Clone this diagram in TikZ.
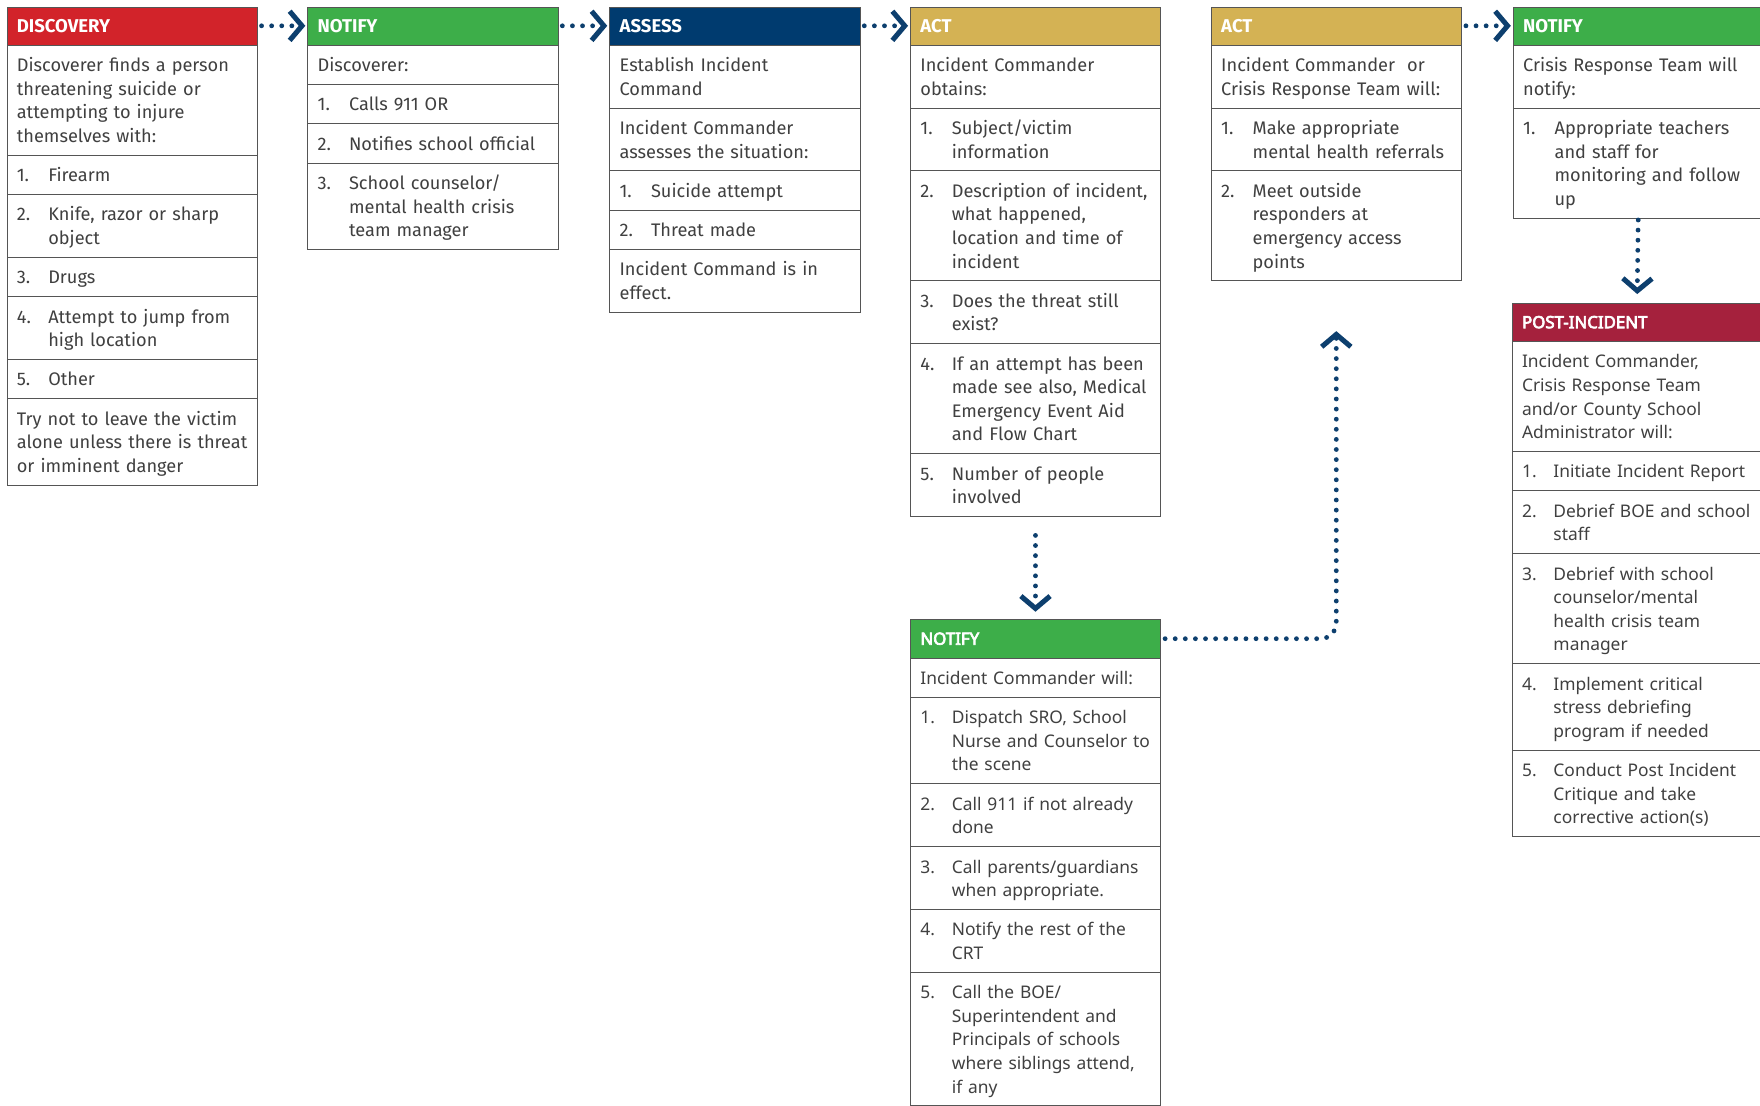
\documentclass[tikz,border=0pt]{standalone}
\usepackage{fontspec}
\setmainfont{Fira Sans}
\newfontfamily\notosans{Noto Sans}
\newfontfamily\notobold{Noto Sans}[FakeBold=4]
\usetikzlibrary{positioning,arrows.meta}

\definecolor{discred}{HTML}{D2232A}
\definecolor{notgreen}{HTML}{3DAE49}
\definecolor{assnavy}{HTML}{003B6F}
\definecolor{actgold}{HTML}{D4B254}
\definecolor{postred}{HTML}{A5213D}
\definecolor{flownavy}{HTML}{0D3F6E}
\definecolor{txtgray}{HTML}{404040}
\definecolor{rulegray}{HTML}{555555}

\newcommand{\bodyfont}{\fontsize{16.2}{21}\selectfont}
\newcommand{\notobody}{\notosans\fontsize{15.5}{21}\selectfont}
\newcommand{\hdfont}{\bfseries\fontsize{16.5}{18}\selectfont}
\newcommand{\notohd}{\notobold\fontsize{15}{18}\selectfont}
\newcommand{\tstrut}{\vrule height 16.8pt depth 4.2pt width 0pt}
\newcommand{\ptxt}[1]{\parbox[t]{260pt}{\raggedright\tstrut #1\tstrut}}
\newcommand{\itm}[2]{\makebox[28pt][l]{#1}\parbox[t]{230pt}{\raggedright\tstrut #2\tstrut}}

\begin{document}
\begin{tikzpicture}[x=1pt,y=-1pt,
    boxhead/.style={draw=rulegray,fill=#1,text=white,font=\hdfont,text width=205pt,
      minimum height=34pt,inner xsep=9pt,inner ysep=0pt,outer sep=0pt,align=left,anchor=north west},
    notohead/.style={boxhead=#1,font=\notohd},
    boxrow/.style={draw=rulegray,fill=white,text=txtgray,font=\bodyfont,text width=205pt,
      inner xsep=9pt,inner ysep=7pt,outer sep=0pt,align=left},
    notorow/.style={boxrow,font=\notobody},
    dotflow/.style={draw=flownavy,line width=4.3pt,line cap=round,dash pattern=on 0pt off 9pt,
      -{Straight Barb[length=11pt,width=26pt,line width=4.5pt]},shorten <=4pt,shorten >=2pt}]
  \useasboundingbox (0,0) rectangle (1568,985);

  \node[boxhead=discred] (disc) at (6,6) {DISCOVERY};
  \node[boxrow,below=0pt of disc] (disc0) {\ptxt{Discoverer finds a person\\threatening suicide or\\attempting to injure\\themselves with:}};
  \node[boxrow,below=0pt of disc0] (disc1) {\itm{1.}{Firearm}};
  \node[boxrow,below=0pt of disc1] (disc2) {\itm{2.}{Knife, razor or sharp\\object}};
  \node[boxrow,below=0pt of disc2] (disc3) {\itm{3.}{Drugs}};
  \node[boxrow,below=0pt of disc3] (disc4) {\itm{4.}{Attempt to jump from\\high location}};
  \node[boxrow,below=0pt of disc4] (disc5) {\itm{5.}{Other}};
  \node[boxrow,below=0pt of disc5] (disc6) {\ptxt{Try not to leave the victim\\alone unless there is threat\\or imminent danger}};

  \node[boxhead=notgreen] (notA) at (274,6) {NOTIFY};
  \node[boxrow,below=0pt of notA] (notA0) {\ptxt{Discoverer:}};
  \node[boxrow,below=0pt of notA0] (notA1) {\itm{1.}{Calls 911 OR}};
  \node[boxrow,below=0pt of notA1] (notA2) {\itm{2.}{Notifies school official}};
  \node[boxrow,below=0pt of notA2] (notA3) {\itm{3.}{School counselor/\\mental health crisis\\team manager}};

  \node[boxhead=assnavy] (ass) at (543,6) {ASSESS};
  \node[boxrow,below=0pt of ass] (ass0) {\ptxt{Establish Incident\\Command}};
  \node[boxrow,below=0pt of ass0] (ass1) {\ptxt{Incident Commander\\assesses the situation:}};
  \node[boxrow,below=0pt of ass1] (ass2) {\itm{1.}{Suicide attempt}};
  \node[boxrow,below=0pt of ass2] (ass3) {\itm{2.}{Threat made}};
  \node[boxrow,below=0pt of ass3] (ass4) {\ptxt{Incident Command is in\\effect.}};

  \node[boxhead=actgold] (actA) at (811,6) {ACT};
  \node[boxrow,below=0pt of actA] (actA0) {\ptxt{Incident Commander\\obtains:}};
  \node[boxrow,below=0pt of actA0] (actA1) {\itm{1.}{Subject/victim\\information}};
  \node[boxrow,below=0pt of actA1] (actA2) {\itm{2.}{Description of incident,\\what happened,\\location and time of\\incident}};
  \node[boxrow,below=0pt of actA2] (actA3) {\itm{3.}{Does the threat still\\exist?}};
  \node[boxrow,below=0pt of actA3] (actA4) {\itm{4.}{If an attempt has been\\made see also, Medical\\Emergency Event Aid\\and Flow Chart}};
  \node[boxrow,below=0pt of actA4] (actA5) {\itm{5.}{Number of people\\involved}};

  \node[notohead=notgreen] (notB) at (811,552) {NOTIFY};
  \node[notorow,below=0pt of notB] (notB0) {\ptxt{Incident Commander will:}};
  \node[notorow,below=0pt of notB0] (notB1) {\itm{1.}{Dispatch SRO, School\\Nurse and Counselor to\\the scene}};
  \node[notorow,below=0pt of notB1] (notB2) {\itm{2.}{Call 911 if not already\\done}};
  \node[notorow,below=0pt of notB2] (notB3) {\itm{3.}{Call parents/guardians\\when appropriate.}};
  \node[notorow,below=0pt of notB3] (notB4) {\itm{4.}{Notify the rest of the\\CRT}};
  \node[notorow,below=0pt of notB4] (notB5) {\itm{5.}{Call the BOE/\\Superintendent and\\Principals of schools\\where siblings attend,\\if any}};

  \node[boxhead=actgold] (actB) at (1079,6) {ACT};
  \node[boxrow,below=0pt of actB] (actB0) {\ptxt{Incident Commander~~or\\Crisis Response Team will:}};
  \node[boxrow,below=0pt of actB0] (actB1) {\itm{1.}{Make appropriate\\mental health referrals}};
  \node[boxrow,below=0pt of actB1] (actB2) {\itm{2.}{Meet outside\\responders at\\emergency access\\points}};
  \coordinate (actBin) at ([yshift=-43pt]actB2.south);

  \node[boxhead=notgreen] (notC) at (1348,6) {NOTIFY};
  \node[boxrow,below=0pt of notC] (notC0) {\ptxt{Crisis Response Team will\\notify:}};
  \node[boxrow,below=0pt of notC0] (notC1) {\itm{1.}{Appropriate teachers\\and staff for\\monitoring and follow\\up}};

  \node[notohead=postred] (post) at (1347,270) {POST-INCIDENT};
  \node[notorow,below=0pt of post] (post0) {\ptxt{Incident Commander,\\Crisis Response Team\\and/or County School\\Administrator will:}};
  \node[notorow,below=0pt of post0] (post1) {\itm{1.}{Initiate Incident Report}};
  \node[notorow,below=0pt of post1] (post2) {\itm{2.}{Debrief BOE and school\\staff}};
  \node[notorow,below=0pt of post2] (post3) {\itm{3.}{Debrief with school\\counselor/mental\\health crisis team\\manager}};
  \node[notorow,below=0pt of post3] (post4) {\itm{4.}{Implement critical\\stress debriefing\\program if needed}};
  \node[notorow,below=0pt of post4] (post5) {\itm{5.}{Conduct Post Incident\\Critique and take\\corrective action(s)}};

  \draw[dotflow] (disc.east) -- (notA.west);
  \draw[dotflow] (notA.east) -- (ass.west);
  \draw[dotflow] (ass.east) -- (actA.west);
  \draw[dotflow,shorten <=17pt,shorten >=7pt] (actA5.south) -- (notB.north);
  \draw[dotflow,rounded corners=14pt] (notB.east) -| (actBin);
  \draw[dotflow] (actB.east) -- (notC.west);
  \draw[dotflow,shorten <=2pt,shorten >=8pt] (notC1.south) -- (post.north);
\end{tikzpicture}
\end{document}
